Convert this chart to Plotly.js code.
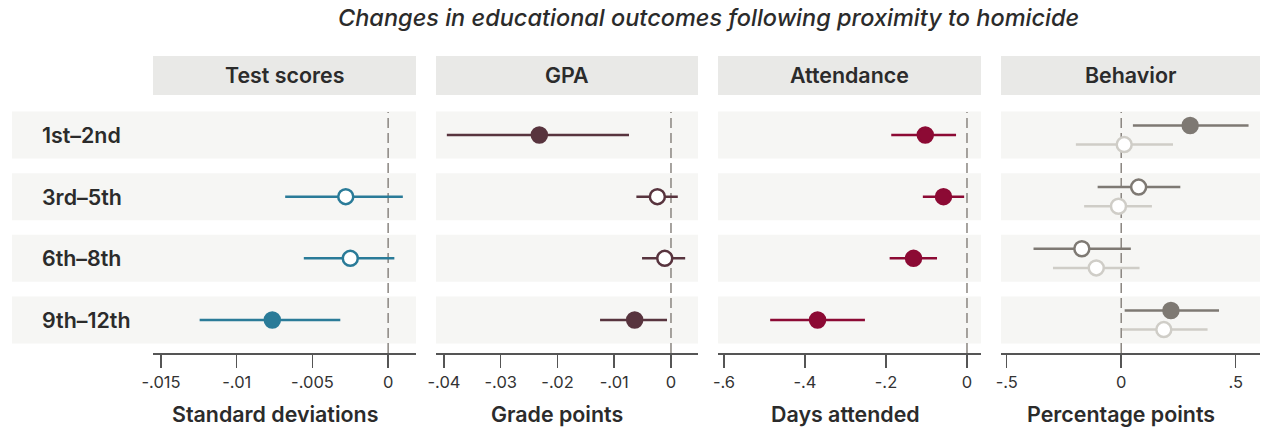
<!DOCTYPE html>
<html>
<head>
<meta charset="utf-8">
<script src="https://cdn.plot.ly/plotly-3.0.1.min.js"></script>
<style>html,body{margin:0;padding:0;background:#fff;}#chart{width:1262px;height:428px;}</style>
</head>
<body>
<div id="chart"></div>
<script>
// ---------- data ----------
const rows = ['1st–2nd', '3rd–5th', '6th–8th', '9th–12th'];

const chartTitle = 'Changes in educational outcomes following proximity to homicide';
const panelTitles = ['Test scores', 'GPA', 'Attendance', 'Behavior'];
const axisTitles = ['Standard deviations', 'Grade points', 'Days attended', 'Percentage points'];

const testPt  = [null, -0.0028, -0.0025, -0.00765];
const testLo  = [null, -0.0068, -0.00557, -0.01245];
const testHi  = [null, 0.00097, 0.00041, -0.00316];
const testSig = [false, false, false, true];

const gpaPt  = [-0.0232, -0.0024, -0.0011, -0.0064];
const gpaLo  = [-0.0395, -0.0061, -0.0051, -0.0125];
const gpaHi  = [-0.0074, 0.0012, 0.0025, -0.0007];
const gpaSig = [true, false, false, true];

const attPt  = [-0.103, -0.058, -0.132, -0.369];
const attLo  = [-0.187, -0.109, -0.191, -0.486];
const attHi  = [-0.027, -0.007, -0.074, -0.252];
const attSig = [true, true, true, true];

const behAPt  = [0.301, 0.076, -0.172, 0.217];
const behALo  = [0.051, -0.103, -0.383, 0.015];
const behAHi  = [0.556, 0.258, 0.042, 0.427];
const behASig = [true, false, false, true];

const behBPt  = [0.013, -0.012, -0.109, 0.186];
const behBLo  = [-0.198, -0.162, -0.298, 0.003];
const behBHi  = [0.226, 0.134, 0.080, 0.377];
const behBSig = [false, false, false, false];

const tickVals = [
  [-0.015, -0.01, -0.005, 0],
  [-0.04, -0.03, -0.02, -0.01, 0],
  [-0.6, -0.4, -0.2, 0],
  [-0.5, 0, 0.5]
];
const tickText = [
  ['-.015', '-.01', '-.005', '0'],
  ['-.04', '-.03', '-.02', '-.01', '0'],
  ['-.6', '-.4', '-.2', '0'],
  ['-.5', '0', '.5']
];

// ---------- styling ----------
const colTeal = '#2a7b98', colMaroon = '#58343e', colCrimson = '#8c0a34',
      colDark = '#7e7973', colLight = '#cfcdc7';
const bandColor = '#f6f6f4', headColor = '#e9e9e7';
const FAM = 'Inter';
const FONT = 'Inter, "Open Sans", sans-serif';

// fit a font size so that text widths match the reference's measured widths
const ctx = document.createElement('canvas').getContext('2d');
function fitSize(items, weight, style) {
  let sum = 0;
  items.forEach(([t, w]) => {
    ctx.font = `${style} ${weight} 100px ${FAM}`;
    sum += 100 * w / ctx.measureText(t).width;
  });
  return Math.round(sum / items.length * 10) / 10;
}
const titleSize = fitSize([[chartTitle, 742]], 500, 'italic');
const boldSize = fitSize([
  ['Standard deviations', 210], ['Grade points', 134], ['Days attended', 151], ['Percentage points', 191],
  ['Test scores', 118], ['Attendance', 121], ['Behavior', 91],
  ['1st–2nd', 77], ['3rd–5th', 79], ['9th–12th', 88]
], 600, 'normal');
const tickSize = fitSize([['-.015', 38], ['-.005', 44]], 400, 'normal');

const domains = [[0.11298, 0.32372], [0.33974, 0.54968], [0.56571, 0.77644], [0.79247, 1.0]];
const ranges = [[-0.01553, 0.00184], [-0.04141, 0.00476], [-0.6148, 0.0346], [-0.525, 0.606]];

function series(pt, lo, hi, sig, color, axis, offset) {
  const xs = [], ys = [], plus = [], minus = [], fills = [];
  pt.forEach((v, i) => {
    if (v === null) return;
    xs.push(v); ys.push(i + offset);
    plus.push(hi[i] - v); minus.push(v - lo[i]);
    fills.push(sig[i] ? color : '#ffffff');
  });
  return {
    type: 'scatter', mode: 'markers', x: xs, y: ys, xaxis: axis, yaxis: 'y',
    marker: { size: 15, color: fills, line: { color: color, width: 2.5 } },
    error_x: { type: 'data', symmetric: false, array: plus, arrayminus: minus,
               width: 0, thickness: 2.5, color: color },
    hoverinfo: 'x', showlegend: false, cliponaxis: false
  };
}

const off = 0.155;
const data = [
  series(testPt, testLo, testHi, testSig, colTeal, 'x', 0),
  series(gpaPt, gpaLo, gpaHi, gpaSig, colMaroon, 'x2', 0),
  series(attPt, attLo, attHi, attSig, colCrimson, 'x3', 0),
  series(behBPt, behBLo, behBHi, behBSig, colLight, 'x4', off),
  series(behAPt, behALo, behAHi, behASig, colDark, 'x4', -off)
];

const shapes = [];
const annotations = [];
const half = 0.381;
const boldFont = { family: FONT, size: boldSize, color: '#2b2b2b', weight: 600 };
rows.forEach((r, i) => {
  domains.forEach((d, p) => {
    shapes.push({ type: 'rect', xref: 'paper', yref: 'y', layer: 'below',
      x0: p === 0 ? 0 : d[0], x1: d[1], y0: i - half, y1: i + half,
      fillcolor: bandColor, line: { width: 0 } });
  });
  annotations.push({ xref: 'paper', yref: 'y', x: 0.0225, y: i, text: r,
    showarrow: false, xanchor: 'left', yanchor: 'middle', font: boldFont });
});
const axNames = ['x', 'x2', 'x3', 'x4'];
domains.forEach((d, p) => {
  shapes.push({ type: 'rect', xref: 'paper', yref: 'paper', layer: 'below',
    x0: d[0], x1: d[1], y0: 1.036, y1: 1.193, fillcolor: headColor, line: { width: 0 } });
  annotations.push({ xref: 'paper', yref: 'paper', x: (d[0] + d[1]) / 2, y: 1.1145,
    text: panelTitles[p], showarrow: false, xanchor: 'center', yanchor: 'middle', font: boldFont });
  const tv = tickVals[p];
  annotations.push({ xref: axNames[p], yref: 'paper', x: (tv[0] + tv[tv.length - 1]) / 2, y: -0.245,
    text: axisTitles[p], showarrow: false, xanchor: 'center', yanchor: 'middle', font: boldFont });
  shapes.push({ type: 'line', xref: axNames[p], yref: 'paper', layer: 'below',
    x0: 0, x1: 0, y0: 0, y1: 0.968,
    line: { color: '#8a8580', width: 1.5, dash: '10px,5px' } });
});
annotations.push({ xref: 'paper', yref: 'paper', x: 0.5577, y: 1.347,
  text: chartTitle, showarrow: false, xanchor: 'center', yanchor: 'middle',
  font: { family: FONT, size: titleSize, color: '#2b2b2b', style: 'italic', weight: 500 } });

function xaxis(p) {
  return {
    domain: domains[p], range: ranges[p], anchor: 'y',
    tickmode: 'array', tickvals: tickVals[p], ticktext: tickText[p],
    ticks: 'outside', ticklen: 13, tickwidth: 1.5, tickcolor: '#555',
    showline: true, linecolor: '#555', linewidth: 2,
    showgrid: false, zeroline: false, fixedrange: true,
    tickfont: { family: FONT, size: tickSize, color: '#333' }
  };
}

const layout = {
  width: 1262, height: 428,
  margin: { l: 12, r: 2, t: 104, b: 75 },
  paper_bgcolor: '#ffffff', plot_bgcolor: 'rgba(0,0,0,0)',
  xaxis: xaxis(0), xaxis2: xaxis(1), xaxis3: xaxis(2), xaxis4: xaxis(3),
  yaxis: { range: [3.535, -0.503], visible: false, fixedrange: true, domain: [0, 1] },
  shapes: shapes, annotations: annotations, showlegend: false
};

Plotly.newPlot('chart', data, layout, { displayModeBar: false, staticPlot: true });
</script>
</body>
</html>
